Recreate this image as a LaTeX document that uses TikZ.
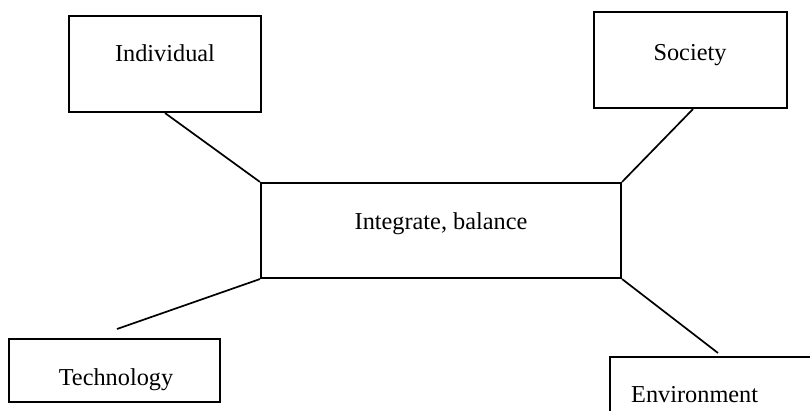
\documentclass[tikz,border=0pt]{standalone}
\usepackage{fontspec}
\setmainfont{Liberation Serif}
\begin{document}
\begin{tikzpicture}[x=1pt,y=-1pt,
  box/.style={draw=black, line width=2.1pt, inner sep=0pt, anchor=center},
  lbl/.style={inner sep=0pt, anchor=base, font=\fontsize{24.3}{29}\selectfont},
  link/.style={draw=black, line width=1.7pt}]
  \useasboundingbox (0,0) rectangle (810,411);
  \clip (0,0) rectangle (810,411);

  % outer boxes
  \node[box, minimum width=192pt, minimum height=96pt] (ind) at (165,64) {};
  \node[box, minimum width=193pt, minimum height=96pt] (soc) at (690.5,60) {};
  \node[box, minimum width=360pt, minimum height=95pt] (ctr) at (441,230.5) {};
  \node[box, minimum width=211pt, minimum height=63pt] (tech) at (114.5,370.5) {};
  \node[box, minimum width=220pt, minimum height=90pt] (env) at (720,402) {};

  % labels
  \node[lbl] (indtxt) at (165,62) {Individual};
  \node[lbl] (soctxt) at (690,60.5) {Society};
  \node[lbl] (ctrtxt) at (441,229.5) {Integrate, balance};
  \node[lbl] (techtxt) at (116,385.5) {Technology};
  \node[lbl, anchor=base west] (envtxt) at (631,402) {Environment};

  % loose ends of the lower connectors
  \coordinate (techend) at (117,329);
  \coordinate (envend) at (718,353);

  % connectors
  \draw[link] (ind.south) -- (ctr.north west);
  \draw[link] ([xshift=2.5pt]soc.south) -- (ctr.north east);
  \draw[link] (ctr.south west) -- (techend);
  \draw[link] (ctr.south east) -- (envend);
\end{tikzpicture}
\end{document}
